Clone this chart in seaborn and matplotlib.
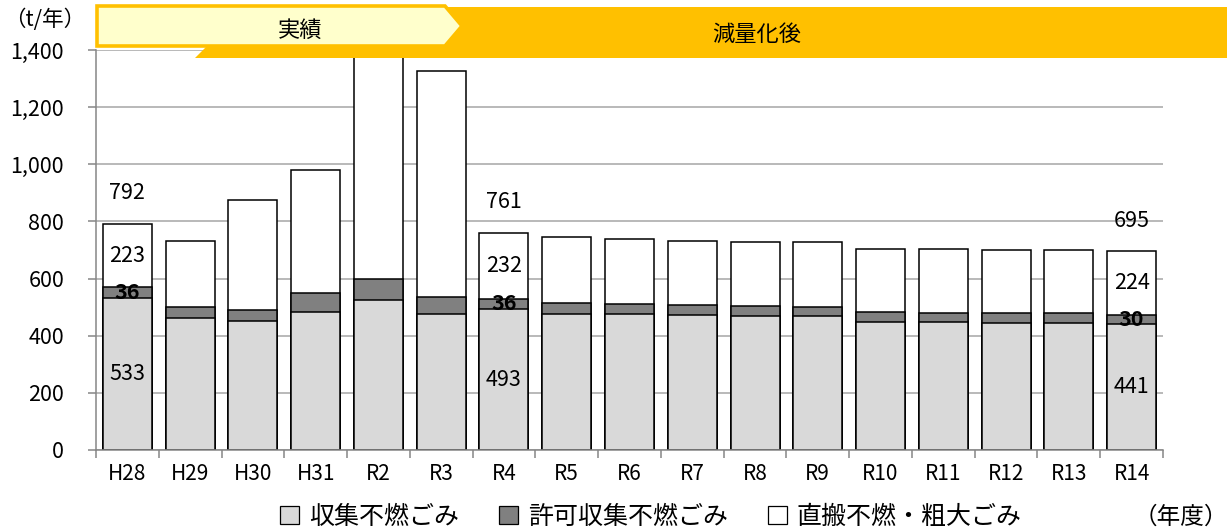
import numpy as np
import pandas as pd
import matplotlib
matplotlib.use("Agg")
import matplotlib.pyplot as plt
from matplotlib.patches import Polygon, Patch
from matplotlib.ticker import FuncFormatter, FixedLocator, MultipleLocator
import seaborn as sns

# Fiscal years and tonnage per waste stream (t/year)
years = ["H28", "H29", "H30", "H31", "R2", "R3", "R4", "R5", "R6",
         "R7", "R8", "R9", "R10", "R11", "R12", "R13", "R14"]
collected = [533, 463, 450, 483, 526, 477, 493, 477, 475,
             471, 469, 469, 449, 448, 446, 446, 441]
permitted = [36, 37, 41, 66, 72, 58, 36, 39, 36,
             35, 35, 33, 33, 33, 32, 32, 30]
direct = [223, 231, 385, 431, 900, 793, 232, 228, 226,
          227, 225, 225, 223, 222, 222, 222, 224]
labelled_years = ["H28", "R4", "R14"]

series_names = ["収集不燃ごみ", "許可収集不燃ごみ", "直搬不燃・粗大ごみ"]
series_colors = ["#D9D9D9", "#808080", "#FFFFFF"]

df = pd.DataFrame({"year": years, "collected": collected,
                   "permitted": permitted, "direct": direct})
df["lower2"] = df["collected"] + df["permitted"]
df["total"] = df["lower2"] + df["direct"]

sns.set_theme(style="white")
plt.rcParams["font.family"] = ["Noto Sans CJK JP", "DejaVu Sans"]
plt.rcParams["text.color"] = "black"
plt.rcParams["xtick.color"] = "black"
plt.rcParams["ytick.color"] = "black"

W, H = 1227, 531
fig = plt.figure(figsize=(W / 100, H / 100), dpi=100)
ax = fig.add_axes([96 / W, 81 / H, 1067 / W, 400 / H])

bar_kw = dict(x="year", order=years, width=0.78, edgecolor="black",
              linewidth=1.1, saturation=1, errorbar=None, ax=ax)
# stacked bars drawn as cumulative layers, tallest first
sns.barplot(data=df, y="total", color=series_colors[2], **bar_kw)
sns.barplot(data=df, y="lower2", color=series_colors[1], **bar_kw)
sns.barplot(data=df, y="collected", color=series_colors[0], **bar_kw)

ax.set_xlim(-0.5, len(years) - 0.5)
ax.set_ylim(0, 1400)
ax.yaxis.set_major_locator(MultipleLocator(200))
ax.yaxis.set_major_formatter(FuncFormatter(lambda v, p: f"{v:,.0f}"))
ax.set_xlabel("")
ax.set_ylabel("")

grid_c = "#A6A6A6"
spine_c = "#868686"
ax.yaxis.grid(True, color=grid_c, linewidth=1.1)
ax.xaxis.grid(False)
ax.set_axisbelow(True)
for side in ["top", "right"]:
    ax.spines[side].set_visible(False)
for side in ["left", "bottom"]:
    ax.spines[side].set_color(spine_c)
    ax.spines[side].set_linewidth(1.1)

ax.xaxis.set_minor_locator(FixedLocator(np.arange(-0.5, len(years), 1.0)))
ax.tick_params(axis="x", which="major", length=0, pad=9, labelsize=15,
               labelcolor="black", bottom=True)
ax.tick_params(axis="x", which="minor", length=6, width=1.1, color=spine_c,
               direction="out", bottom=True)
ax.tick_params(axis="y", which="major", length=6, width=1.1, color=spine_c,
               direction="out", left=True, pad=17, labelsize=15.5,
               labelcolor="black")

# value labels for the highlighted years
for i, y in enumerate(years):
    if y not in labelled_years:
        continue
    c, p, d = collected[i], permitted[i], direct[i]
    tot = c + p + d
    ax.text(i, c / 2, f"{c}", ha="center", va="center", fontsize=15.5)
    ax.text(i, c + p / 2, f"{p}", ha="center", va="center", fontsize=15.5,
            fontweight="bold")
    ax.text(i, c + p + d / 2, f"{d}", ha="center", va="center", fontsize=15.5)
    ax.annotate(f"{tot}", xy=(i, tot), xytext=(0, 22),
                textcoords="offset points", ha="center", va="center",
                fontsize=15.5)

# period banner across the top
ov = fig.add_axes([0, 0, 1, 1], zorder=10)
ov.set_xlim(0, W)
ov.set_ylim(H, 0)
ov.axis("off")
ov.patch.set_alpha(0)
gold = "#FFC000"
ov.add_patch(Polygon([(195, 7), (1240, 7), (1240, 58), (195, 58), (221, 32)],
                     closed=True, facecolor=gold, edgecolor="none"))
ov.add_patch(Polygon([(97, 6), (445, 6), (462, 26), (445, 46), (97, 46)],
                     closed=True, facecolor="#FFFFCC", edgecolor=gold,
                     linewidth=2.6, joinstyle="miter"))
ov.text(300, 30, "実績", ha="center", va="center", fontsize=16)
ov.text(757, 34, "減量化後", ha="center", va="center", fontsize=16)

fig.text(4 / W, 1 - 20 / H, "（t/年）", ha="left", va="center", fontsize=15.5)
fig.text(1181 / W, 1 - 517 / H, "（年度）", ha="center", va="center",
         fontsize=17)

handles = [Patch(facecolor=col, edgecolor="black", linewidth=0.9)
           for col in series_colors]
fig.legend(handles, series_names, loc="center",
           bbox_to_anchor=(651 / W, 1 - 517 / H), ncol=3, frameon=False,
           fontsize=18, handlelength=0.75, handleheight=0.75,
           handletextpad=0.4, columnspacing=1.6)

fig.savefig("out.png", dpi=100)
